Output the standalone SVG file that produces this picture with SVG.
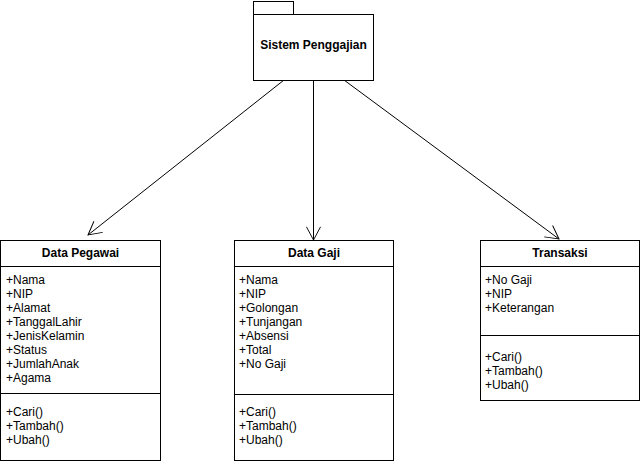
<svg xmlns="http://www.w3.org/2000/svg" width="641" height="464" viewBox="0 0 641 464">
<style>
.box{fill:#fff;stroke:#000;stroke-width:1}
.ln{stroke:#000;stroke-width:1;fill:none}
.t{font-family:"Liberation Sans",Arial,sans-serif;font-size:12px;fill:#000}
.b{font-weight:bold;text-anchor:middle}
</style>
<defs>
<marker id="open" markerUnits="userSpaceOnUse" markerWidth="16" markerHeight="16" refX="14" refY="7.5" orient="auto" viewBox="-1 -1 16 17">
<path d="M0,0 L14,7.5 L0,15" fill="none" stroke="#000" stroke-width="1"/>
</marker>
</defs>
<rect width="641" height="464" fill="#fff"/>
<g id="connectors">
<line class="ln" x1="284" y1="80" x2="88" y2="235" marker-end="url(#open)"/>
<line class="ln" x1="313.5" y1="80" x2="313.5" y2="240" marker-end="url(#open)"/>
<line class="ln" x1="344" y1="80" x2="559" y2="239" marker-end="url(#open)"/>
</g>
<g id="sistem-penggajian">
<rect class="box" x="253.5" y="1.5" width="40" height="13"/>
<rect class="box" x="253.5" y="14.5" width="120" height="66"/>
<text class="t b" x="313.5" y="49">Sistem Penggajian</text>
</g>
<g id="data-pegawai">
<rect class="box" x="0.5" y="240.5" width="160" height="220"/>
<line class="ln" x1="0.5" y1="266.5" x2="160.5" y2="266.5"/>
<line class="ln" x1="0.5" y1="393.5" x2="160.5" y2="393.5"/>
<text class="t b" x="80.5" y="257">Data Pegawai</text>
<text class="t" x="6" y="284">+Nama</text>
<text class="t" x="6" y="298">+NIP</text>
<text class="t" x="6" y="312">+Alamat</text>
<text class="t" x="6" y="326">+TanggalLahir</text>
<text class="t" x="6" y="340">+JenisKelamin</text>
<text class="t" x="6" y="354">+Status</text>
<text class="t" x="6" y="368">+JumlahAnak</text>
<text class="t" x="6" y="382">+Agama</text>
<text class="t" x="6" y="416">+Cari()</text>
<text class="t" x="6" y="430">+Tambah()</text>
<text class="t" x="6" y="444">+Ubah()</text>
</g>
<g id="data-gaji">
<rect class="box" x="234.5" y="240.5" width="159" height="220"/>
<line class="ln" x1="234.5" y1="266.5" x2="393.5" y2="266.5"/>
<line class="ln" x1="234.5" y1="394.5" x2="393.5" y2="394.5"/>
<text class="t b" x="314" y="257">Data Gaji</text>
<text class="t" x="239" y="284">+Nama</text>
<text class="t" x="239" y="298">+NIP</text>
<text class="t" x="239" y="312">+Golongan</text>
<text class="t" x="239" y="326">+Tunjangan</text>
<text class="t" x="239" y="340">+Absensi</text>
<text class="t" x="239" y="354">+Total</text>
<text class="t" x="239" y="368">+No Gaji</text>
<text class="t" x="239" y="416">+Cari()</text>
<text class="t" x="239" y="430">+Tambah()</text>
<text class="t" x="239" y="444">+Ubah()</text>
</g>
<g id="transaksi">
<rect class="box" x="480.5" y="240.5" width="159" height="160"/>
<line class="ln" x1="480.5" y1="266.5" x2="639.5" y2="266.5"/>
<line class="ln" x1="480.5" y1="335.5" x2="639.5" y2="335.5"/>
<text class="t b" x="560" y="257">Transaksi</text>
<text class="t" x="485" y="284">+No Gaji</text>
<text class="t" x="485" y="298">+NIP</text>
<text class="t" x="485" y="312">+Keterangan</text>
<text class="t" x="485" y="361">+Cari()</text>
<text class="t" x="485" y="375">+Tambah()</text>
<text class="t" x="485" y="389">+Ubah()</text>
</g>
</svg>
